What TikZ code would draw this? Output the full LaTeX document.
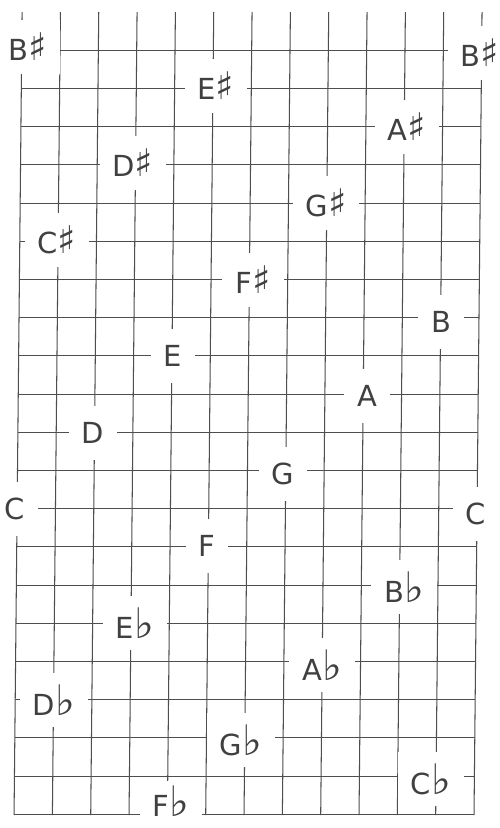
\documentclass[tikz,border=0pt]{standalone}
\usepackage{fontspec}
\setmainfont{DejaVu Sans}
\newfontfamily\hand{DejaVu Sans}
\definecolor{pencil}{HTML}{4E4E4E}
\definecolor{ink}{HTML}{404040}
\newcommand\shp{{\fontsize{38}{38}\selectfont ♯}}
\newcommand\flt{{\fontsize{42}{42}\selectfont ♭}}
\begin{document}
\begin{tikzpicture}[x=1pt,y=-1pt,
  gridline/.style={draw=pencil,line width=1.05pt},
  note/.style={fill=white,inner xsep=13pt,inner ysep=0pt,minimum height=54pt,text=ink,font=\hand\fontsize{29}{29}\selectfont}]
\useasboundingbox (0,0) rectangle (500,828);
\fill[white] (0,0) rectangle (500,828);
\begin{scope}[xslant=0.01]
  \foreach \i in {0,...,12} \draw[gridline] ({22.2+38.33*\i},12) -- ({22.2+38.33*\i},815);
  \foreach \j in {0,...,20} \draw[gridline] (22.2,{50.3+38.2*\j}) -- (482.2,{50.3+38.2*\j});
\end{scope}
% sharps
\node[note] (bsl) at (28,47) {B\shp};
\node[note] (bsr) at (480,53) {B\shp};
\node[note] (es) at (216,86) {E\shp};
\node[note] (as) at (407,127) {A\shp};
\node[note] (ds) at (133,163) {D\shp};
\node[note] (gs) at (326,203) {G\shp};
\node[note] (cs) at (57,240) {C\shp};
\node[note] (fs) at (253,280) {F\shp};
% naturals
\node[note] (b) at (441,322) {B};
\node[note] (e) at (173,356) {E};
\node[note] (a) at (367,396) {A};
\node[note] (d) at (93,433) {D};
\node[note] (g) at (283,474) {G};
\node[note] (cl) at (15,509) {C};
\node[note] (cr) at (476,514) {C};
\node[note] (f) at (207,546) {F};
% flats
\node[note] (bb) at (404,587) {B\flt};
\node[note] (eb) at (135,623) {E\flt};
\node[note] (ab) at (322,665) {A\flt};
\node[note] (db) at (54,700) {D\flt};
\node[note] (gb) at (241,740) {G\flt};
\node[note] (cb) at (431,779) {C\flt};
\node[note,minimum height=40pt] (fb) at (171,801) {F\flt};
\end{tikzpicture}
\end{document}
